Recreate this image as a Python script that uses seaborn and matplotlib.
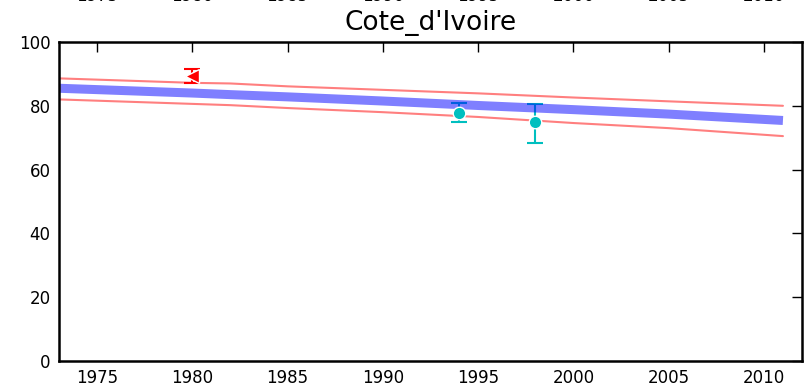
import numpy as np
import pandas as pd
import matplotlib
matplotlib.use("Agg")
import matplotlib.pyplot as plt
import matplotlib.transforms as mtransforms
import seaborn as sns

# fitted trend and its band
years = [1973, 1980, 1982, 1985, 1990, 1995, 2000, 2005, 2011]
trend = [85.5, 84.0, 83.5, 82.8, 81.5, 80.1, 78.8, 77.4, 75.4]
upper = [88.6, 87.2, 87.0, 86.1, 85.0, 83.9, 82.6, 81.4, 80.0]
lower = [82.0, 80.6, 80.2, 79.3, 78.0, 76.5, 74.6, 73.0, 70.5]

# survey points
red_year = [1980]
red_val = [89.3]
red_lo = [87.1]
red_hi = [91.5]

cyan_year = [1994, 1998]
cyan_val = [77.8, 75.0]
cyan_lo = [74.8, 68.4]
cyan_hi = [81.0, 80.5]

xticks = [1975, 1980, 1985, 1990, 1995, 2000, 2005, 2010]
yticks = [0, 20, 40, 60, 80, 100]

sns.set_style("white")
plt.rcParams['font.family'] = ['DejaVu Sans']
plt.rcParams['text.color'] = 'black'

fig = plt.figure(figsize=(8.09, 3.92), dpi=100)
ax = fig.add_axes([59 / 809, 31 / 392, 743 / 809, 319 / 392])

df = pd.DataFrame({'year': years, 'trend': trend, 'upper': upper, 'lower': lower})

# error bars go under the trend line
cyan = (0, 0.75, 0.75)
ax.errorbar(red_year, red_val,
            yerr=[np.subtract(red_val, red_lo), np.subtract(red_hi, red_val)],
            fmt='none', ecolor='red', elinewidth=1.5, capsize=6, capthick=1.5, zorder=1)
ax.errorbar(cyan_year, cyan_val,
            yerr=[np.subtract(cyan_val, cyan_lo), np.subtract(cyan_hi, cyan_val)],
            fmt='none', ecolor=cyan, elinewidth=1.5, capsize=6, capthick=1.5, zorder=1)

sns.lineplot(data=df, x='year', y='upper', color='red', alpha=0.5, lw=1.5, ax=ax, zorder=2)
sns.lineplot(data=df, x='year', y='lower', color='red', alpha=0.5, lw=1.5, ax=ax, zorder=2)
sns.lineplot(data=df, x='year', y='trend', color='blue', alpha=0.5, lw=6.5, ax=ax, zorder=2,
             solid_capstyle='butt')

ax.plot(red_year, red_val, marker='<', ms=10, color='red', mec='white', mew=1,
        ls='none', zorder=3)
ax.plot(cyan_year, cyan_val, marker='o', ms=9, color=cyan, mec='white', mew=1,
        ls='none', zorder=3)

ax.set_xlim(1973, 2012)
ax.set_ylim(0, 100)
ax.set_xticks(xticks)
ax.set_yticks(yticks)
ax.set_xlabel('')
ax.set_ylabel('')
ax.tick_params(direction='in', length=7.5, width=1, top=True, right=True,
               labelsize=12, colors='black', pad=6)
for s in ax.spines.values():
    s.set_visible(True)
    s.set_color('black')
    s.set_linewidth(1.8)

ax.set_title("Cote_d'Ivoire", fontsize=19, pad=9, color='black')

# tick labels of the panel above, cut off by the figure edge
trans = mtransforms.blended_transform_factory(ax.transData, ax.transAxes)
for yr in xticks:
    ax.text(yr, 1.127, str(yr), transform=trans, ha='center', va='baseline',
            fontsize=12, color='black', clip_on=False)

fig.savefig('out.png', dpi=100)
